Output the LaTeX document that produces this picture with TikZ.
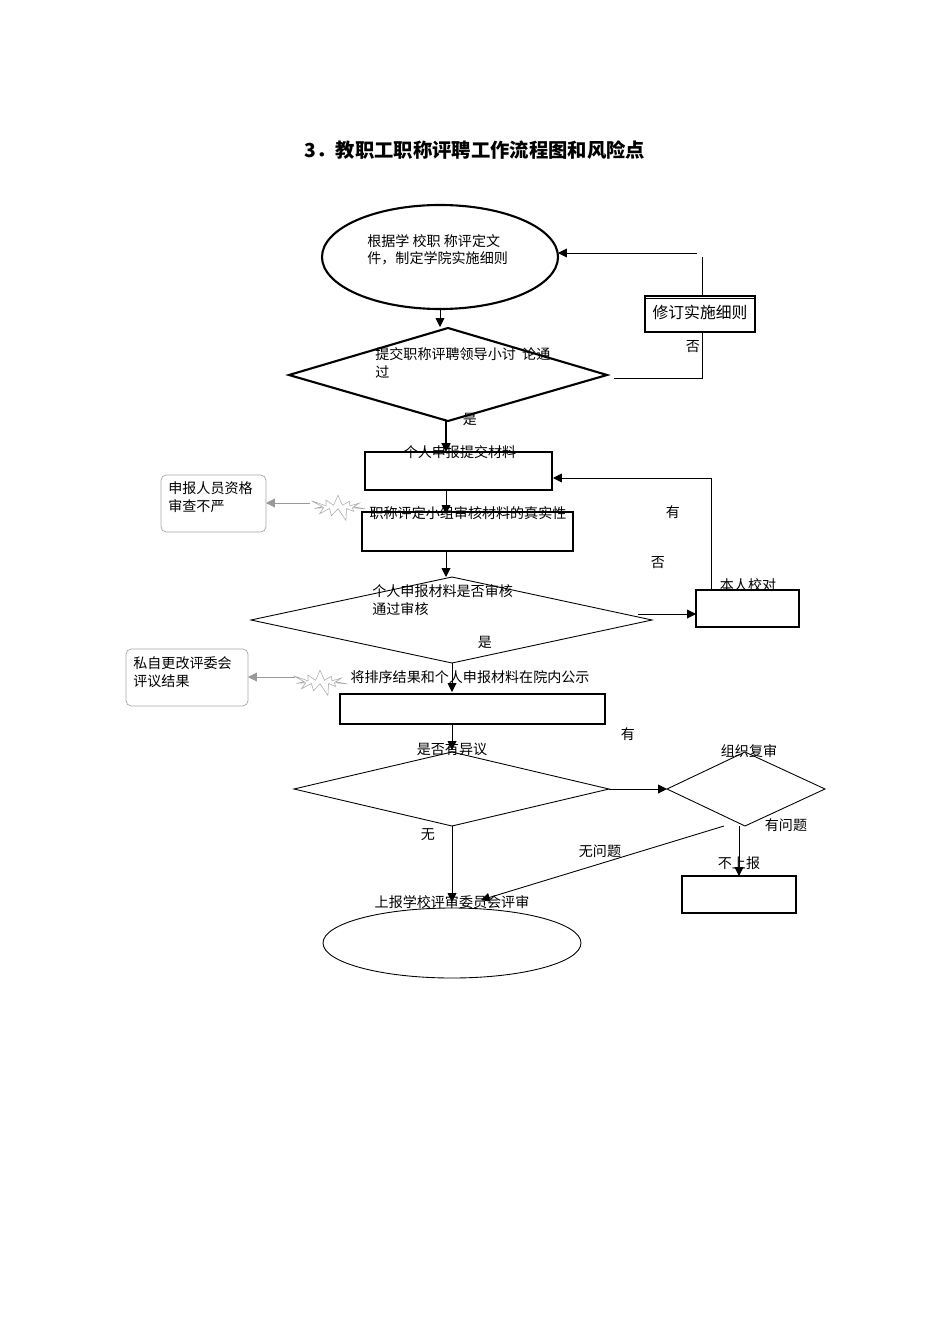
\documentclass[tikz,border=0pt]{standalone}
\usepackage{fontspec}
\setmainfont{Noto Sans CJK SC}
\usetikzlibrary{shapes.geometric,shapes.symbols,arrows.meta}
\begin{document}
\begin{tikzpicture}[x=0.02cm,y=-0.02cm,
 every node/.style={font=\fontsize{8}{10}\selectfont,inner sep=0pt},
 lbl/.style={anchor=center},
 box/.style={draw,line width=0.6pt},
 tbox/.style={draw,line width=1.2pt},
 risk/.style={draw=gray!70,rounded corners=3pt,line width=0.4pt},
 burst/.style={starburst,draw=gray!70,line width=0.3pt,starburst points=11,starburst point height=8pt,minimum width=34pt,minimum height=18pt},
 arr/.style={-{Triangle[length=5pt,width=5pt]},line width=0.5pt},
 tarr/.style={-{Triangle[length=5pt,width=5pt]},line width=1.2pt},
 ln/.style={line width=0.5pt}]
\useasboundingbox (0,0) rectangle (950,1344);
\node[font=\fontsize{11}{13}\selectfont\bfseries] (title) at (475,150) {3．教职工职称评聘工作流程图和风险点};
% top ellipse
\draw[line width=1.2pt] (440,257) ellipse [x radius=118,y radius=52];
\coordinate (e1top) at (440,205); \coordinate (e1bot) at (440,310); \coordinate (e1r) at (558,253);
\node[anchor=west,align=left] (t1) at (367,250) {根据学 校职 称评定文\\件，制定学院实施细则};
% revise box
\node[box,minimum width=110pt*0.567,anchor=north west] (rev) at (645,296) {};
\draw[box] (645,296) rectangle (755,332);
\coordinate (revc) at (700,314);
\node (revt) at (700,312) {\fontsize{9}{10}\selectfont 修订实施细则};
\coordinate (p1) at (697,253); \coordinate (p2) at (702,257); \coordinate (p3) at (702,296);
\coordinate (p4) at (702,332); \coordinate (p5) at (702,378); \coordinate (p6) at (614,378);
\draw[arr] (p1) -- (e1r);
\draw[ln] (p2) -- (p3);
\draw[ln] (p4) -- (p5) -- (p6);
\node (no1) at (693,347) {否};
% diamond 1
\coordinate (d1t) at (448,328); \coordinate (d1l) at (289,375); \coordinate (d1r) at (607,375); \coordinate (d1b) at (448,421);
\draw[line width=1.2pt] (d1t) -- (d1r) -- (d1b) -- (d1l) -- cycle;
\node[anchor=west,align=left] (t2) at (375,363) {提交职称评聘领导小讨\ \ 论通\\过};
\draw[arr] (e1bot) -- (440,327);
\coordinate (a1s) at (446,421); \coordinate (b1t) at (446,452);
\draw[tarr] (a1s) -- (b1t);
\node (yes1) at (470,419) {是};
% box b1
\draw[tbox] (365,452) rectangle (552,490);
\node (b1l) at (460,452) {个人申报提交材料};
\coordinate (b1b) at (446,490); \coordinate (b2t) at (446,514);
\draw[arr] (b1b) -- (b2t);
\draw[box] (362,512) rectangle (573,551);
\node (b2l) at (468,513) {职称评定小组审核材料的真实性};
\coordinate (b2b) at (446,551); \coordinate (d2t) at (446,577);
\draw[arr] (b2b) -- (d2t);
% diamond 2
\draw[ln] (452,577) -- (652,620) -- (452,663) -- (251,620) -- cycle;
\node[anchor=west,align=left] (t3) at (372,600) {个人申报材料是否审核\\通过审核};
\node (yes2) at (485,642) {是};
\coordinate (d2b) at (452,663); \coordinate (b3t) at (452,692);
\draw[arr] (d2b) -- (b3t);
\draw[box] (340,694) rectangle (605,724);
\node (b3l) at (470,677) {将排序结果和个人申报材料在院内公示};
% right loop
\draw[box] (696,590) rectangle (799,627);
\node (b4l) at (748,585) {本人校对};
\coordinate (q1) at (638,614); \coordinate (b4w) at (696,614);
\draw[arr] (q1) -- (b4w);
\coordinate (q2) at (711,590); \coordinate (q3) at (711,478); \coordinate (b1e) at (553,478);
\draw[arr] (q2) -- (q3) -- (b1e);
\node (you1) at (673,512) {有};
\node (no2) at (658,563) {否};
% risks
\draw[risk] (161,475) rectangle (266,532);
\node[anchor=west,align=left] (r1t) at (168,497) {申报人员资格\\审查不严};
\node[burst] (s1) at (338,507) {};
\coordinate (s1w) at (310,503); \coordinate (r1e) at (266,503);
\draw[arr,draw=gray!80] (s1w) -- (r1e);
\draw[risk] (126,649) rectangle (248,706);
\node[anchor=west,align=left] (r2t) at (133,672) {私自更改评委会\\评议结果};
\node[burst] (s2) at (320,682) {};
\coordinate (s2w) at (295,677); \coordinate (r2e) at (248,677);
\draw[arr,draw=gray!80] (s2w) -- (r2e);
% diamond 3
\coordinate (b3b) at (452,724); \coordinate (d3t) at (452,750);
\draw[arr] (b3b) -- (d3t);
\draw[ln] (452,752) -- (609,789) -- (452,826) -- (294,789) -- cycle;
\node (d3l) at (452,749) {是否有异议};
\node (you2) at (628,734) {有};
\coordinate (d3r) at (609,789); \coordinate (d4l) at (667,789);
\draw[arr] (d3r) -- (d4l);
\draw[ln] (745,752) -- (825,789) -- (745,826) -- (667,789) -- cycle;
\node (d4lab) at (749,751) {组织复审};
\coordinate (d3b) at (452,826); \coordinate (e2t) at (452,902);
\draw[arr] (d3b) -- (e2t);
\node (wu) at (428,835) {无};
% ellipse 2
\draw[ln] (452,943) ellipse [x radius=129,y radius=35];
\node (e2l) at (452,902) {上报学校评审委员会评审};
\coordinate (m1) at (724,826); \coordinate (m2) at (481,900);
\draw[arr] (m1) -- (m2);
\node (nop) at (600,851) {无问题};
\coordinate (d4b) at (739,826); \coordinate (b5t) at (739,876);
\draw[arr] (d4b) -- (b5t);
\node (yp) at (786,825) {有问题};
\draw[box] (682,876) rectangle (796,913);
\node (b5l) at (739,863) {不上报};
\end{tikzpicture}
\end{document}
